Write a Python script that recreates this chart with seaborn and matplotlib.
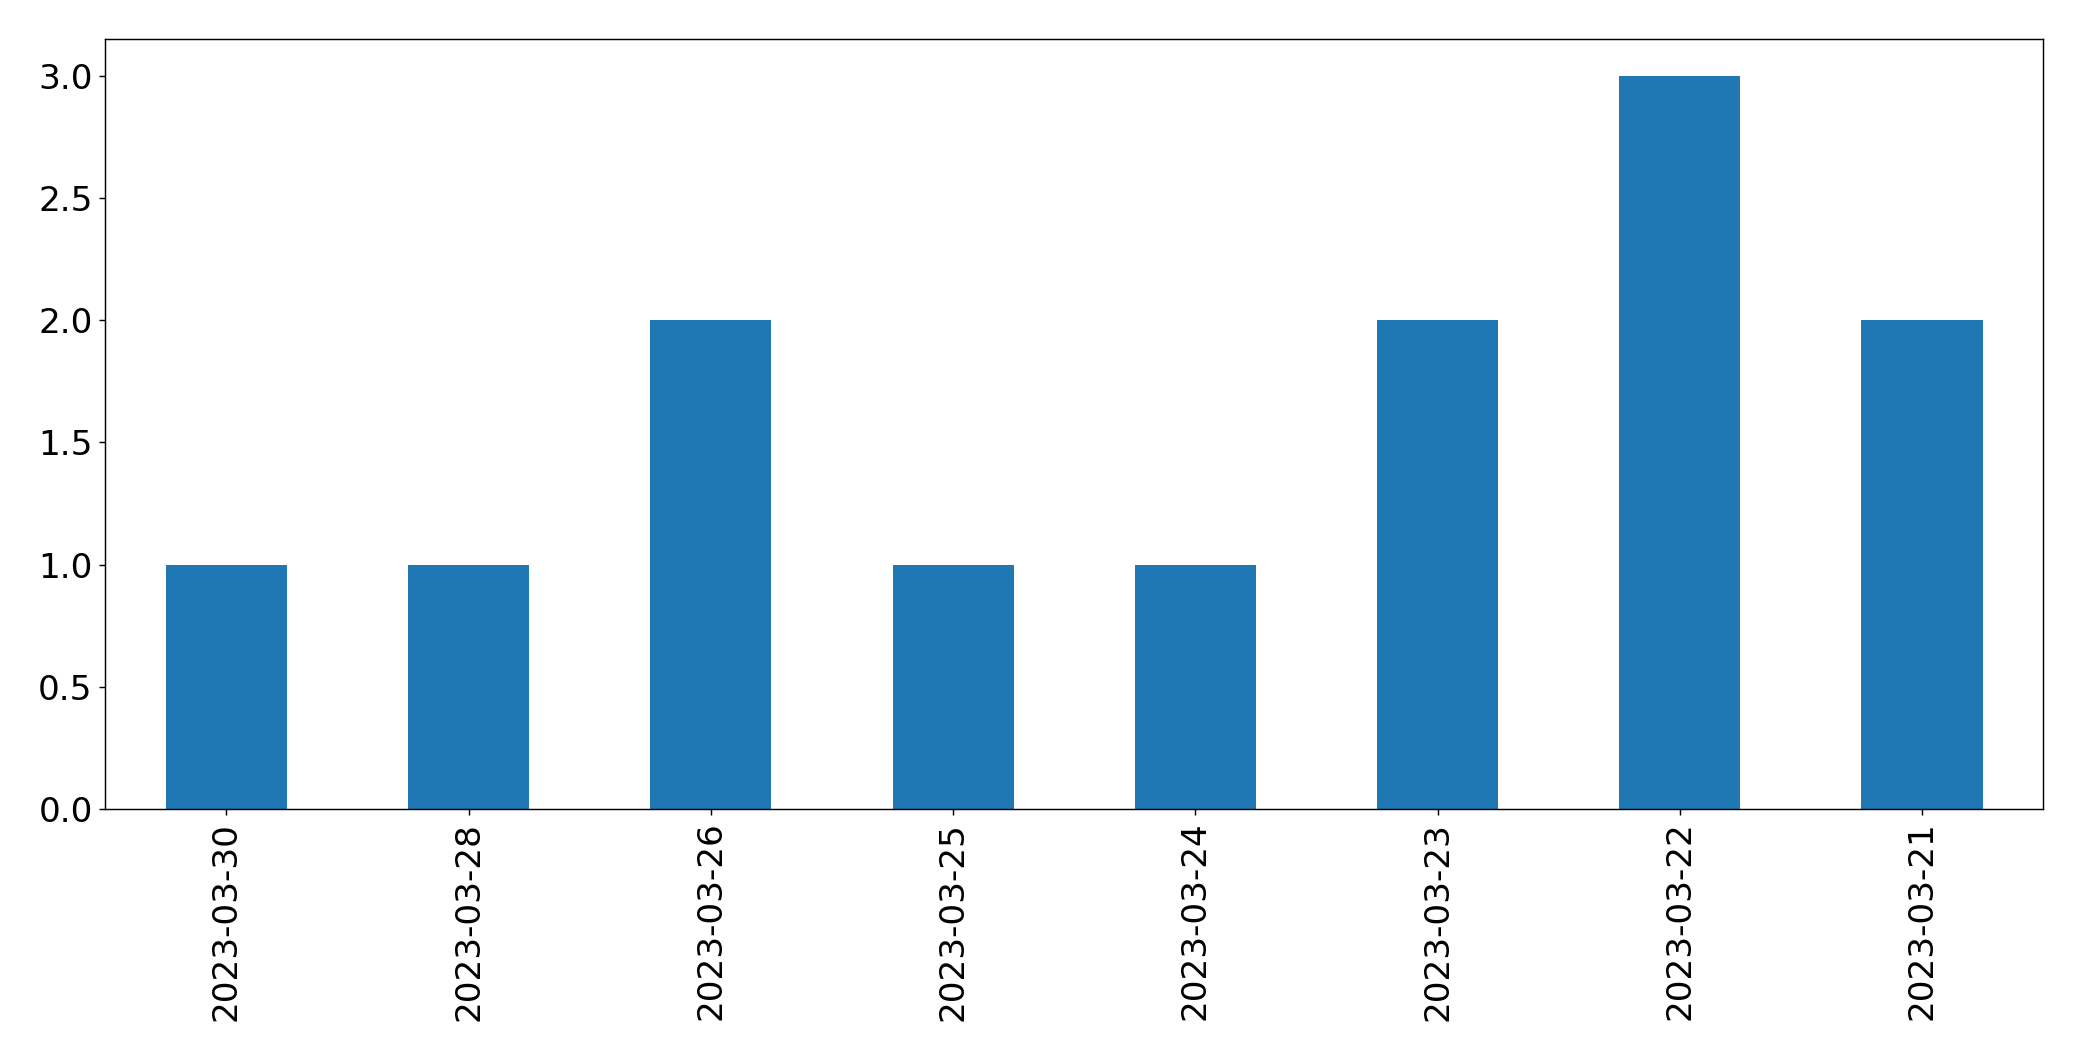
import pandas as pd
import matplotlib
matplotlib.use("Agg")
import matplotlib.pyplot as plt
import seaborn as sns

# counts per date, in the order shown on the chart
dates = ['2023-03-30', '2023-03-28', '2023-03-26', '2023-03-25',
         '2023-03-24', '2023-03-23', '2023-03-22', '2023-03-21']
counts = [1, 1, 2, 1, 1, 2, 3, 2]

df = pd.DataFrame({'date': dates, 'count': counts})

plt.rcParams['font.family'] = ['DejaVu Sans']
plt.rcParams['font.size'] = 19

fig, ax = plt.subplots(figsize=(2082 / 130, 1061 / 130), dpi=130)
sns.barplot(data=df, x='date', y='count', order=dates, color='#1f77b4',
            saturation=1, width=0.5, ax=ax)

ax.set_xlim(-0.5, len(dates) - 0.5)
ax.set_xlabel('')
ax.set_ylabel('')
ax.tick_params(axis='both', labelsize=19)
ax.tick_params(axis='x', labelrotation=90)

fig.subplots_adjust(left=0.0506, right=0.9813, top=0.963, bottom=0.2375)
fig.savefig('out.png', dpi=130)
